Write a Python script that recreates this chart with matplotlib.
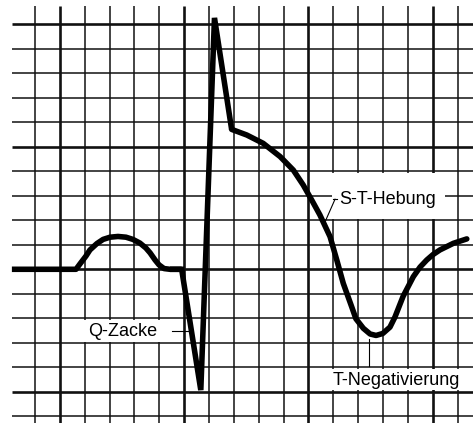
import numpy as np
import matplotlib
matplotlib.use('Agg')
import matplotlib.pyplot as plt
from matplotlib.patches import Rectangle

plt.rcParams['font.family'] = ['Liberation Sans', 'DejaVu Sans']

# ---- data (one unit = one grid box; x=0 at first vertical line, y=0 at baseline)
# baseline + P wave
p_x = [-0.93, 1.65, 1.81, 2.05, 2.21, 2.49, 2.74, 3.02, 3.34, 3.66, 3.94, 4.22,
       4.46, 4.63, 4.83, 4.99, 5.19, 5.43, 5.90]
p_y = [0.0, 0.0, 0.22, 0.54, 0.79, 1.05, 1.22, 1.31, 1.34, 1.31, 1.22, 1.07,
       0.87, 0.67, 0.38, 0.18, 0.03, 0.0, 0.0]
# Q, R, S corners
qrs_x = [5.43, 5.90, 6.67, 7.22, 7.91]
qrs_y = [0.0, 0.0, -4.93, 10.26, 5.71]
# S-T segment and negative T wave
st_x = [7.91, 8.52, 9.18, 9.86, 10.39, 10.79, 11.13, 11.46, 11.87, 12.14, 12.40,
        12.74, 12.91, 13.21, 13.48, 13.72, 13.99, 14.28, 14.48, 14.81, 15.22,
        15.49, 15.76, 16.01, 16.29, 16.83, 17.37]
st_y = [5.71, 5.48, 5.14, 4.60, 4.05, 3.44, 2.83, 2.22, 1.33, 0.38, -0.57,
        -1.53, -2.02, -2.41, -2.64, -2.70, -2.62, -2.36, -1.95, -1.10, -0.30,
        0.09, 0.38, 0.60, 0.79, 1.06, 1.24]

grid_cols = np.arange(0, 18)
grid_rows = np.arange(-6, 11)

label_text = ['Q-Zacke', 'S-T-Hebung', 'T-Negativierung']
label_x = [3.53, 14.18, 14.55]
label_y = [-2.55, 2.84, -4.52]

# ---- figure --------------------------------------------------------------
fig = plt.figure(figsize=(4.73, 4.23), dpi=100)
ax = fig.add_axes([0, 0, 1, 1])
ax.set_xlim(-1.408, 17.62)
ax.set_ylim(-6.273, 10.99)
ax.axis('off')

# grid paper: every fifth line heavier
thick_c = (grid_cols - 1) % 5 == 0
thick_r = grid_rows % 5 == 0
ax.vlines(grid_cols[~thick_c], -6.4, 10.75, color='#111111', lw=1.1, zorder=1)
ax.vlines(grid_cols[thick_c], -6.4, 10.75, color='#111111', lw=1.9, zorder=1)
ax.hlines(grid_rows[~thick_r], -0.925, 17.7, color='#111111', lw=1.1, zorder=1)
ax.hlines(grid_rows[thick_r], -0.925, 17.7, color='#111111', lw=1.9, zorder=1)

# white patches behind labels
for (x0, y0, w, h) in [(1.9, -2.95, 3.45, 0.9),
                       (11.93, 2.07, 4.57, 1.86),
                       (11.12, -4.93, 6.4, 0.86)]:
    ax.add_patch(Rectangle((x0, y0), w, h, facecolor='white',
                           edgecolor='none', zorder=2))

# trace: smooth parts with round joins, QRS with sharp corners
ax.plot(p_x, p_y, color='black', lw=4.0, solid_joinstyle='round',
        solid_capstyle='butt', zorder=4)
ax.plot(st_x, st_y, color='black', lw=4.0, solid_joinstyle='round',
        solid_capstyle='round', zorder=4)
ax.plot(qrs_x, qrs_y, color='black', lw=4.0, solid_joinstyle='miter',
        solid_capstyle='butt', zorder=4)

# leaders
ax.plot([5.5, 6.19], [-2.5, -2.5], color='black', lw=0.8, zorder=3)
ax.plot([11.67, 12.07], [1.94, 2.86], color='black', lw=0.8, zorder=3)
ax.plot([11.98, 12.14], [2.86, 2.86], color='black', lw=0.8, zorder=3)
ax.plot([13.45, 13.45], [-2.84, -3.95], color='black', lw=0.8, zorder=3)

for t, x, y in zip(label_text, label_x, label_y):
    ax.text(x, y, t, ha='center', va='center', fontsize=13, color='black',
            zorder=5)

fig.savefig('out.png', dpi=100, facecolor='white')
